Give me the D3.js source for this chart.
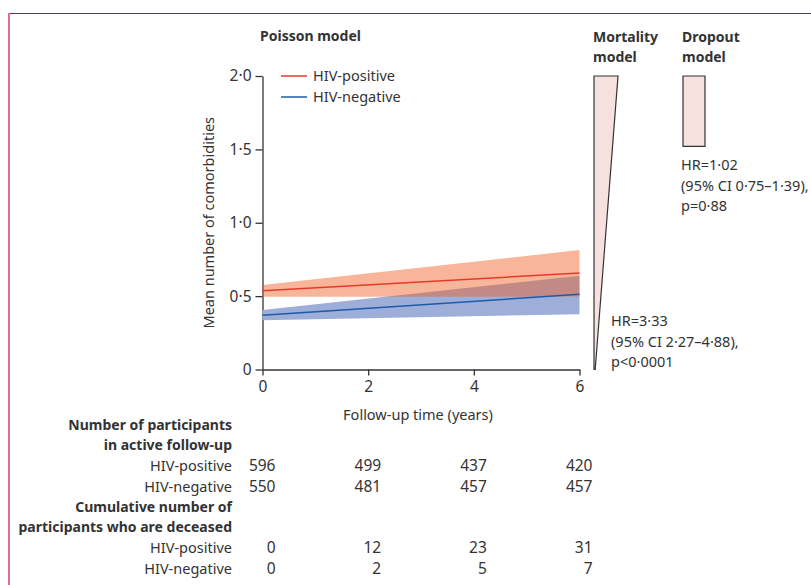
<!DOCTYPE html>
<html>
<head>
<meta charset="utf-8">
<script src="https://cdn.jsdelivr.net/npm/d3@7"></script>
<style>
    body { margin: 0; background: #fff; }
    svg text { font-family: "Noto Sans", sans-serif; fill: #333; }
</style>
</head>
<body>
<div id="chart"></div>
<script>
// Poisson model estimates
var years = [0, 6];
var posMean = [0.536, 0.657];
var posLower = [0.495, 0.497];
var posUpper = [0.575, 0.814];
var negMean = [0.370, 0.512];
var negLower = [0.336, 0.377];
var negUpper = [0.405, 0.639];

var xTicks = [0, 2, 4, 6];
var yTicks = [0, 0.5, 1, 1.5, 2];

// numbers at risk table
var tableYears = [0, 2, 4, 6];
var activePos = [596, 499, 437, 420];
var activeNeg = [550, 481, 457, 457];
var deceasedPos = [0, 12, 23, 31];
var deceasedNeg = [0, 2, 5, 7];

// the two side models (top / bottom on the same y scale, taper of the shape)
var modelTitles = [["Mortality", "model"], ["Dropout", "model"]];
var modelTop = [2.0, 2.0];
var modelBottom = [0, 1.52];
var modelTaper = [0.95, 0];
var modelText = [
    ["HR=3·33", "(95% CI 2·27–4·88),", "p<0·0001"],
    ["HR=1·02", "(95% CI 0·75–1·39),", "p=0·88"]
];

var width = 811, height = 585;
var fs = 14.5;
var fsBold = 14;
var fsNum = 15.5;

var svg = d3.select("#chart")
            .append("svg")
            .attr("width", width)
            .attr("height", height);

// frame lines at top and left
svg.append("line")
    .attr("x1", 8).attr("x2", width)
    .attr("y1", 13.5).attr("y2", 13.5)
    .style("stroke", "#9e1a4c")
    .style("stroke-width", 1.2);
svg.append("line")
    .attr("x1", 9).attr("x2", 9)
    .attr("y1", 13).attr("y2", height)
    .style("stroke", "#e56b93")
    .style("stroke-width", 2);

var x = d3.scaleLinear().domain([0, 6]).range([262.5, 579.5]);
var y = d3.scaleLinear().domain([0, 2]).range([369.5, 76]);

function fmt(d) {
    return d === 0 ? "0" : d3.format(".1f")(d).replace(".", "·");
}

// y axis
var yAxis = svg.append("g")
    .attr("transform", "translate(" + x(0) + ",0)")
    .call(d3.axisLeft(y).tickValues(yTicks).tickFormat(fmt).tickSize(7).tickSizeOuter(0).tickPadding(4));
// x axis
var xAxis = svg.append("g")
    .attr("transform", "translate(0," + y(0) + ")")
    .call(d3.axisBottom(x).tickValues(xTicks).tickFormat(d3.format("d")).tickSize(6).tickSizeOuter(0).tickPadding(5));

svg.selectAll(".domain, .tick line")
    .style("stroke", "#333")
    .style("stroke-width", 1.3);
svg.selectAll(".tick text")
    .style("font-size", fsNum + "px")
    .style("font-family", "'Noto Sans', sans-serif")
    .style("fill", "#333");

// confidence bands
var pts = years.map(function(d, i) { return i; });
var area = function(lo, hi) {
    return d3.area()
        .x(function(i) { return x(years[i]); })
        .y0(function(i) { return y(lo[i]); })
        .y1(function(i) { return y(hi[i]); });
};
var line = function(v) {
    return d3.line()
        .x(function(i) { return x(years[i]); })
        .y(function(i) { return y(v[i]); });
};

svg.append("path")
    .attr("d", area(negLower, negUpper)(pts))
    .style("fill", "#9daed8");
svg.append("path")
    .attr("d", area(posLower, posUpper)(pts))
    .style("fill", "#f05e22")
    .style("opacity", 0.46);
svg.append("path")
    .attr("d", line(negMean)(pts))
    .style("fill", "none")
    .style("stroke", "#1f5aa8")
    .style("stroke-width", 1.5);
svg.append("path")
    .attr("d", line(posMean)(pts))
    .style("fill", "none")
    .style("stroke", "#e8382b")
    .style("stroke-width", 1.5);

// legend
var legend = [["HIV-positive", "#e8382b"], ["HIV-negative", "#1f5aa8"]];
legend.forEach(function(l, i) {
    var ly = 76 + i * 21;
    svg.append("line")
        .attr("x1", 281).attr("x2", 307)
        .attr("y1", ly).attr("y2", ly)
        .style("stroke", l[1])
        .style("stroke-width", 1.5);
    svg.append("text")
        .attr("x", 313).attr("y", ly)
        .attr("dy", "0.35em")
        .style("font-size", fs + "px")
        .text(l[0]);
});

// titles
svg.append("text")
    .attr("x", 260).attr("y", 36)
    .attr("dy", "0.35em")
    .style("font-size", fsBold + "px")
    .style("font-weight", "bold")
    .text("Poisson model");
svg.append("text")
    .attr("transform", "translate(209," + y(1) + ") rotate(-90)")
    .attr("text-anchor", "middle")
    .attr("dy", "0.35em")
    .style("font-size", fs + "px")
    .text("Mean number of comorbidities");
svg.append("text")
    .attr("x", (x(0) + x(6)) / 2 - 3).attr("y", 415)
    .attr("text-anchor", "middle")
    .attr("dy", "0.35em")
    .style("font-size", fs + "px")
    .text("Follow-up time (years)");

// mortality and dropout shapes
var modelX = [594, 683];
var modelW = [24, 22];
modelTitles.forEach(function(t, i) {
    t.forEach(function(s, j) {
        svg.append("text")
            .attr("x", modelX[i] - 1).attr("y", 37 + j * 20)
            .attr("dy", "0.35em")
            .style("font-size", fsBold + "px")
            .style("font-weight", "bold")
            .text(s);
    });
    var x0 = modelX[i], w = modelW[i];
    var shape = [
        [x0, y(modelTop[i])],
        [x0 + w, y(modelTop[i])],
        [x0 + w * (1 - modelTaper[i]), y(modelBottom[i])],
        [x0, y(modelBottom[i])]
    ];
    svg.append("path")
        .attr("d", d3.line()(shape) + "Z")
        .style("fill", "#f6e1df")
        .style("stroke", "#333")
        .style("stroke-width", 1.2);
});

// hazard ratio notes
var noteX = [611, 681];
var noteY = [321, 165];
modelText.forEach(function(t, i) {
    t.forEach(function(s, j) {
        svg.append("text")
            .attr("x", noteX[i]).attr("y", noteY[i] + j * 20.5)
            .attr("dy", "0.35em")
            .style("font-size", fs + "px")
            .text(s);
    });
});

// numbers table
var rows = [
    {label: "Number of participants", bold: true},
    {label: "in active follow-up", bold: true},
    {label: "HIV-positive", values: activePos},
    {label: "HIV-negative", values: activeNeg},
    {label: "Cumulative number of", bold: true},
    {label: "participants who are deceased", bold: true},
    {label: "HIV-positive", values: deceasedPos},
    {label: "HIV-negative", values: deceasedNeg}
];
rows.forEach(function(r, i) {
    var ry = 425 + i * 20.5;
    svg.append("text")
        .attr("x", 232).attr("y", ry)
        .attr("dy", "0.35em")
        .attr("text-anchor", "end")
        .style("font-size", (r.bold ? fsBold : fs) + "px")
        .style("font-weight", r.bold ? "bold" : "normal")
        .text(r.label);
    if (r.values) {
        r.values.forEach(function(v, j) {
            svg.append("text")
                .attr("x", x(tableYears[j]) + 13).attr("y", ry)
                .attr("dy", "0.35em")
                .attr("text-anchor", "end")
                .style("font-size", fsNum + "px")
                .text(v);
        });
    }
});
</script>
</body>
</html>
